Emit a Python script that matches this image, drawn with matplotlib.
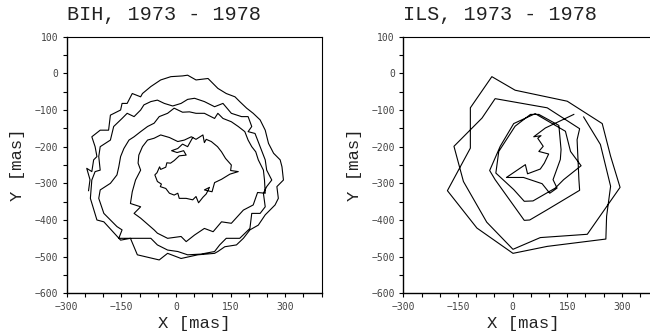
import matplotlib
matplotlib.use("Agg")
import matplotlib.pyplot as plt
from matplotlib.ticker import MultipleLocator, FixedLocator

# polar motion path, BIH series [mas]
bih_x = [46, 32, 18, 5, -12, 3, 21, 28, 9, -5, -15, -25, -28, -42, -45, -52, -58,
         -51, -40, -43, -28, -18, -5, 5, 9, 28, 46, 55, 62, 74, 83, 92, 78, 99, 106, 125, 148, 171, 150,
         152, 136, 125, 114, 97, 83, 78, 74, 55, 42, 23, 5, -18, -42, -60, -78, -92,
         -102, -104, -97, -111, -120,
         -125, -97, -115, -97, -60, -51, -23, 14, 28, 51, 78, 102, 125, 152, 185, 212, 224, 245, 243,
         240, 226, 219, 208, 198, 189, 171, 152, 129, 115, 106,
         78, 55, 37, 18, -5, -23, -46, -60, -78, -97, -115,
         -129, -143, -152, -157, -162, -180, -208,
         -212, -198, -162, -148, -157, -106, -69, -51, -23, 5, 32, 69, 106, 120, 138, 175, 203, 208, 231, 245, 240, 249, 263,
         249, 245, 231, 217, 198, 208, 198,
         180, 152, 129, 106, 78, 51, 32, 14, -9, -32, -51, -69, -88, -97, -115,
         -134, -148, -171, -180, -208, -212, -208, -222,
         -231, -235, -217, -198, -152, -125, -106, -46, -23, 14, 60, 106, 115, 134, 166, 185, 203, 226, 245, 272, 281, 277, 295,
         291, 286, 268, 254, 245, 231, 212, 194,
         175, 162, 138, 115, 88, 55, 32, 18, -14, -42, -69, -92, -97, -120,
         -134, -148, -152, -180, -185, -208, -231, -222, -217, -226, -231, -245, -236, -240]
bih_y = [-175, -200, -193, -205, -211, -216, -211, -223, -225, -238, -245, -244, -256, -262, -255, -271, -277,
         -295, -302, -309, -314, -327, -332, -327, -341, -341, -345, -336, -353, -338, -329, -311, -318, -323, -298, -289, -275, -268, -265,
         -250, -232, -214, -200, -186, -180, -189, -168, -180, -173, -182, -186, -175, -168, -177, -182, -200,
         -223, -245, -264, -291, -323,
         -355, -364, -382, -395, -427, -436, -450, -445, -459, -441, -423, -432, -405, -409, -373, -359, -325, -327, -291,
         -264, -236, -214, -200, -182, -159, -145, -132, -123, -109, -123,
         -109, -109, -105, -106, -95, -109, -118, -136, -145, -159, -173,
         -182, -205, -227, -255, -277, -300, -318,
         -341, -382, -418, -427, -450, -450, -450, -468, -482, -486, -495, -493, -486, -468, -450, -450, -423, -382, -382, -364, -327, -309, -291,
         -264, -236, -200, -164, -159, -145, -118,
         -118, -109, -82, -91, -77, -68, -71, -82, -89, -82, -73, -77, -86, -100, -118,
         -109, -123, -145, -182, -200, -227, -264, -268,
         -291, -341, -400, -405, -455, -450, -495, -509, -491, -505, -495, -491, -486, -473, -468, -450, -427, -414, -386, -359, -341, -309, -291,
         -255, -236, -218, -191, -155, -127, -109, -95,
         -77, -64, -55, -41, -14, -18, -5, -7, -9, -18, -36, -55, -64, -55,
         -82, -82, -100, -114, -155, -155, -173, -200, -227, -236, -268, -259, -290, -320]

# polar motion path, ILS series [mas]
ils_x = [168, 90, 58, 78, 69, 84, 72, 99, 87, 76, 41, 35, -17, 30, 81, 102, 122, 111, 131, 133, 127,
         72, 49, 7, -38, -46, 3, 32, 56, 117, 140, 188, 159, 145,
         62, 3, -34, -63, -48, 32, 47, 95, 184, 182, 177, 184,
         95, -48, -84, -161, -135, -71, 1, 76, 205, 295, 269, 246,
         150, 7, -57, -116, -116, -179, -98, 1, 95, 256, 258, 269, 241, 195]
ils_y = [-112, -149, -173, -170, -177, -199, -213, -220, -245, -261, -274, -249, -284, -284, -301, -327, -313, -290, -235, -208, -142,
         -112, -112, -144, -213, -272, -317, -349, -348, -313, -290, -252, -213, -158,
         -110, -137, -199, -265, -290, -401, -400, -372, -319, -290, -181, -151,
         -94, -69, -122, -199, -295, -406, -480, -448, -439, -311, -226, -137,
         -76, -46, -9, -94, -204, -320, -422, -491, -472, -452, -390, -308, -194, -119]

panels = [("BIH, 1973 - 1978", bih_x, bih_y, 0.1026, 0.5),
          ("ILS, 1973 - 1978", ils_x, ils_y, 0.6205, 0.471)]

mono = "Liberation Mono"

fig = plt.figure(figsize=(6.5, 3.33), dpi=100)

for title, xs, ys, left, xlab_pos in panels:
    ax = fig.add_axes([left, 0.1192, 0.3923, 0.7706])
    ax.plot(xs, ys, color="black", lw=0.8)

    ax.set_xlim(-300, 400)
    ax.set_ylim(-600, 100)
    ax.xaxis.set_major_locator(FixedLocator([-300, -150, 0, 150, 300]))
    ax.xaxis.set_minor_locator(MultipleLocator(50))
    ax.yaxis.set_major_locator(MultipleLocator(100))
    ax.yaxis.set_minor_locator(MultipleLocator(50))
    ax.tick_params(which="both", direction="out", length=2.6, width=0.8,
                   top=False, right=False, colors="black")
    ax.tick_params(which="major", labelsize=7, labelcolor="#444444", pad=3.5)
    for lab in ax.get_xticklabels() + ax.get_yticklabels():
        lab.set_family("DejaVu Sans Mono")

    for side in ["left", "bottom"]:
        ax.spines[side].set_linewidth(1.0)
    for side in ["top", "right"]:
        ax.spines[side].set_linewidth(0.8)

    ax.text(0, 1.085, title, transform=ax.transAxes, ha="left", va="center",
            fontsize=14.5, family=mono, color="#222222")
    ax.text(xlab_pos, -0.116, "X [mas]", transform=ax.transAxes,
            ha="center", va="center", fontsize=12.4, family=mono, color="#222222")
    ax.text(-0.191, 0.5, "Y [mas]", transform=ax.transAxes, rotation=90,
            ha="center", va="center", fontsize=12.4, family=mono, color="#222222")

fig.savefig("out.png", dpi=100)
